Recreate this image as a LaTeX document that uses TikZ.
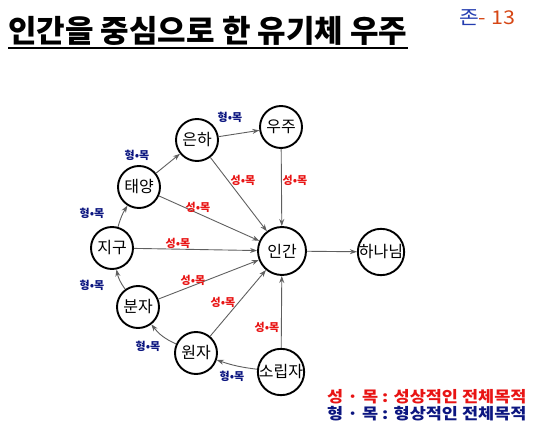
\documentclass[tikz,border=0pt]{standalone}
\usepackage{fontspec}
\setmainfont{Noto Sans CJK KR}
\newfontfamily\widekr[FakeStretch=1.13]{Noto Sans CJK KR}
\usetikzlibrary{arrows.meta}
\definecolor{smred}{RGB}{232,20,20}
\definecolor{hynavy}{RGB}{12,22,128}
\definecolor{arrgray}{RGB}{95,95,95}
\definecolor{numblue}{RGB}{35,60,175}
\definecolor{numorange}{RGB}{214,70,20}

\begin{document}
\begin{tikzpicture}[x=1pt, y=1pt,
  every node/.style={inner sep=0pt, align=center},
  body/.style={circle, draw=black, line width=1.9pt, minimum size=42pt, font=\fontsize{16}{16}\selectfont},
  arr/.style={draw=arrgray, line width=0.9pt, -{Stealth[length=7pt, width=5pt]}},
  smlbl/.style={text=smred, font=\fontsize{11}{11}\selectfont\bfseries},
  hylbl/.style={text=hynavy, font=\fontsize{11}{11}\selectfont\bfseries},
  legend/.style={anchor=west, font=\widekr\fontsize{15.5}{15.5}\selectfont\bfseries}]
  \useasboundingbox (0,0) rectangle (560,-433);

  % title and page number
  \node[anchor=base west, font=\fontsize{31}{31}\selectfont\bfseries] (title) at (8,-43) {인간을 중심으로 한 유기체 우주};
  \draw[line width=1.3pt] ([yshift=-5pt]title.base west) -- ([yshift=-5pt]title.base east);
  \node[anchor=base west, font=\widekr\fontsize{19}{19}\selectfont] (pageno) at (459,-25) {\textcolor{numblue}{존}\textcolor{numorange}{- 13}};

  % bodies
  \node[body] (eunha) at (197,-140) {은하};
  \node[body] (uju) at (281,-127) {우주};
  \node[body] (taeyang) at (139,-187) {태양};
  \node[body] (jigu) at (112,-248) {지구};
  \node[body, minimum size=48pt] (ingan) at (282,-251) {인간};
  \node[body, minimum size=45pt] (hananim) at (381,-252) {하나님};
  \node[body] (bunja) at (138,-307) {분자};
  \node[body] (wonja) at (196,-353) {원자};
  \node[body] (sorip) at (281,-372) {소립자};

  % arrows towards the centre
  \foreach \src in {eunha,uju,taeyang,jigu,bunja,wonja,sorip}
    \draw[arr] (\src) -- (ingan);
  \draw[arr] (ingan) -- (hananim);

  % outer chain
  \draw[arr] (eunha) -- (uju);
  \draw[arr] (taeyang) -- (eunha);
  \draw[arr] (jigu) to[bend left=8] (taeyang);
  \draw[arr] (bunja) to[bend left=12] (jigu);
  \draw[arr] (wonja) to[bend left=14] (bunja);
  \draw[arr] (sorip) to[bend left=6] (wonja);

  % edge labels
  \node[hylbl] (lEU) at (230,-117) {형•목};
  \node[hylbl] (lTE) at (137,-155) {형•목};
  \node[hylbl] (lJT) at (92,-213) {형•목};
  \node[hylbl] (lBJ) at (92,-285) {형•목};
  \node[hylbl] (lWB) at (148,-346) {형•목};
  \node[hylbl] (lSW) at (232,-376) {형•목};
  \node[smlbl] (lE) at (243,-180) {성•목};
  \node[smlbl] (lU) at (295,-180) {성•목};
  \node[smlbl] (lT) at (198,-207) {성•목};
  \node[smlbl] (lJ) at (178,-243) {성•목};
  \node[smlbl] (lB) at (193,-280) {성•목};
  \node[smlbl] (lW) at (223,-302) {성•목};
  \node[smlbl] (lS) at (267,-327) {성•목};

  % legend
  \node[legend, text=smred] (legsm) at (327,-397) {성 · 목 : 성상적인 전체목적};
  \node[legend, text=hynavy] (leghy) at (327,-414) {형 · 목 : 형상적인 전체목적};
\end{tikzpicture}
\end{document}
